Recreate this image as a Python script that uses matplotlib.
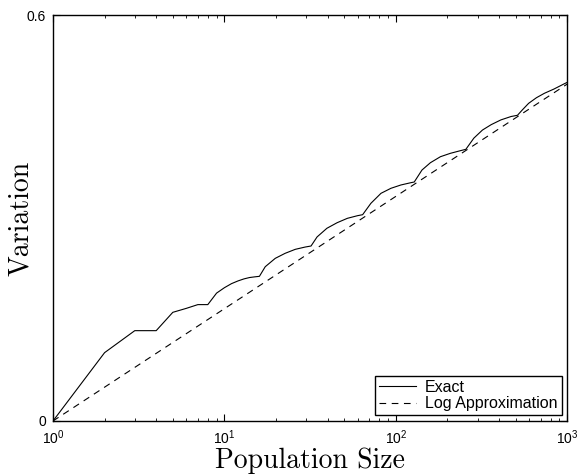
import numpy as np
import matplotlib
matplotlib.use('Agg')
import matplotlib.pyplot as plt

plt.rcParams['font.family'] = ['Liberation Sans', 'DejaVu Sans']
plt.rcParams['mathtext.fontset'] = 'custom'
plt.rcParams['mathtext.rm'] = 'Liberation Sans'
plt.rcParams['mathtext.it'] = 'Liberation Sans'
plt.rcParams['mathtext.default'] = 'regular'

# values
exact_n = [1, 2, 3, 4, 5, 6, 7, 8, 9, 10, 11, 12, 13, 14, 15, 16,
           17.3, 19.8, 22.6, 25.9, 29.6, 32,
           34.7, 39.6, 45.4, 52.1, 59.7, 64,
           71.5, 81.9, 93.6, 107, 122.4, 128,
           142, 159, 182, 208, 238, 256,
           285, 320, 360, 410, 470, 512,
           546, 595, 661, 735, 836, 971, 1000]
exact_v = [0.0, 0.101, 0.1335, 0.1335, 0.1606, 0.1665, 0.172, 0.172,
           0.189, 0.197, 0.203, 0.207, 0.210, 0.212, 0.213, 0.2138,
           0.228, 0.2404, 0.2478, 0.2537, 0.2571, 0.2586,
           0.272, 0.2848, 0.293, 0.2995, 0.3034, 0.3049,
           0.3217, 0.3365, 0.3439, 0.3488, 0.3522, 0.3532,
           0.3709, 0.3817, 0.3906, 0.3956, 0.3995, 0.4015,
           0.418, 0.430, 0.438, 0.445, 0.450, 0.4518,
           0.4596, 0.4695, 0.4778, 0.4843, 0.4906, 0.499, 0.5005]

approx_n = [1, 1000]
approx_v = [0.0, 0.498]

fig = plt.figure(figsize=(5.79, 4.75), dpi=100)
ax = fig.add_axes([0.0915, 0.1137, 0.8883, 0.8547])

ax.plot(exact_n, exact_v, color='black', lw=0.8, label='Exact')
ax.plot(approx_n, approx_v, color='black', lw=0.8, ls=(0, (6, 5)),
        label='Log Approximation')

ax.set_xscale('log')
ax.set_xlim(1, 1000)
ax.set_ylim(0, 0.6)
ax.set_yticks([0, 0.6])
ax.set_yticklabels(['0', '0.6'])
ax.set_xticks([1, 10, 100, 1000])
ax.set_xticklabels([r'$10^0$', r'$10^1$', r'$10^2$', r'$10^3$'])

ax.tick_params(which='both', direction='in', top=True, right=True,
               labelsize=10)
ax.tick_params(axis='x', pad=5)
ax.tick_params(axis='y', pad=5)
ax.tick_params(which='major', length=5)
ax.tick_params(which='minor', length=2.5)
for s in ax.spines.values():
    s.set_linewidth(1.0)

ax.set_xlabel('Population Size', fontname='cmr10', fontsize=20, labelpad=1)
ax.set_ylabel('Variation', fontname='cmr10', fontsize=20)
ax.yaxis.set_label_coords(-0.036, 0.5)

leg = ax.legend(loc='lower right', fontsize=11.5, fancybox=False,
                framealpha=1, edgecolor='black', borderpad=0.25,
                handlelength=2.3, handletextpad=0.6, labelspacing=0.1,
                borderaxespad=0.35)
leg.get_frame().set_linewidth(1.0)

fig.savefig('out.png', dpi=100)
